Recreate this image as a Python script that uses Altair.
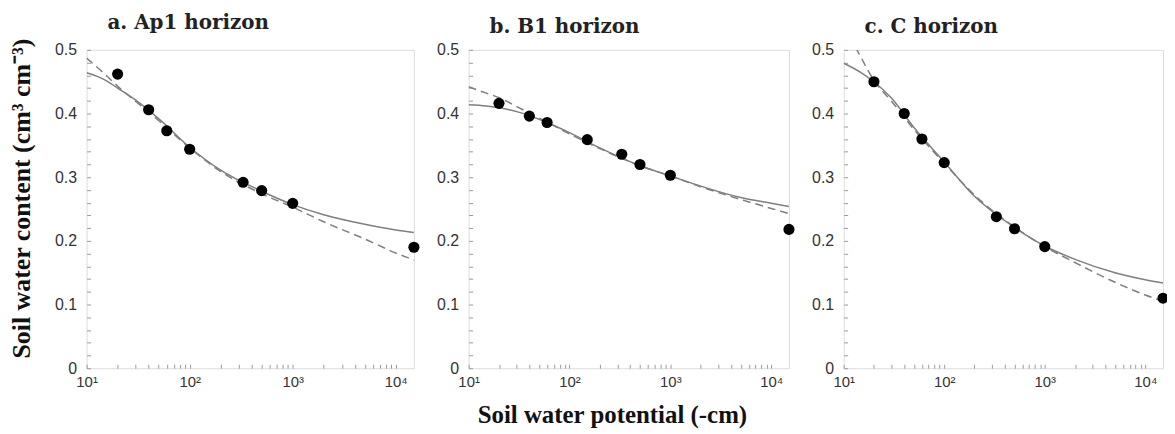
import altair as alt
import pandas as pd

# ---------------- data ----------------
# observed points (suction in -cm, water content cm3/cm3)
psi_obs_a = [20, 40, 60, 100, 330, 500, 1000, 15000]
theta_obs_a = [0.462, 0.406, 0.373, 0.344, 0.292, 0.279, 0.259, 0.190]

psi_obs_b = [20, 40, 60, 150, 330, 500, 1000, 15000]
theta_obs_b = [0.416, 0.396, 0.386, 0.359, 0.336, 0.320, 0.303, 0.218]

psi_obs_c = [20, 40, 60, 100, 330, 500, 1000, 15000]
theta_obs_c = [0.450, 0.400, 0.360, 0.323, 0.238, 0.219, 0.191, 0.110]

# fitted curves
psi_curve = [10, 15, 20, 30, 50, 100, 200, 500, 1000, 2000, 5000, 10000, 15000]

solid_a = [0.464, 0.453, 0.440, 0.421, 0.392, 0.347, 0.311, 0.278, 0.257, 0.241, 0.226, 0.217, 0.213]
dashed_a = [0.487, 0.462, 0.443, 0.419, 0.389, 0.346, 0.309, 0.274, 0.253, 0.230, 0.203, 0.181, 0.170]

solid_b = [0.414, 0.412, 0.409, 0.403, 0.391, 0.370, 0.346, 0.318, 0.302, 0.286, 0.268, 0.259, 0.254]
dashed_b = [0.442, 0.432, 0.425, 0.411, 0.393, 0.368, 0.345, 0.318, 0.302, 0.285, 0.265, 0.251, 0.243]

solid_c = [0.479, 0.464, 0.450, 0.424, 0.378, 0.324, 0.270, 0.221, 0.192, 0.171, 0.150, 0.139, 0.134]
dashed_c = [0.540, 0.487, 0.452, 0.419, 0.375, 0.322, 0.272, 0.222, 0.191, 0.166, 0.135, 0.115, 0.105]

titles = ["a. Ap1 horizon", "b. B1 horizon", "c. C horizon"]

x_ticks = [10, 20, 30, 40, 50, 60, 70, 80, 90,
           100, 200, 300, 400, 500, 600, 700, 800, 900,
           1000, 2000, 3000, 4000, 5000, 6000, 7000, 8000, 9000, 10000]
y_ticks = [0.0, 0.02, 0.04, 0.06, 0.08, 0.1, 0.12, 0.14, 0.16, 0.18, 0.2,
           0.22, 0.24, 0.26, 0.28, 0.3, 0.32, 0.34, 0.36, 0.38, 0.4,
           0.42, 0.44, 0.46, 0.48, 0.5]

x_label_expr = ("datum.value == 10 ? '10\u00b9' : datum.value == 100 ? '10\u00b2' : "
                "datum.value == 1000 ? '10\u00b3' : datum.value == 10000 ? '10\u2074' : ''")
y_label_expr = ("datum.value == 0 ? '0' : (round(datum.value * 100) % 10 == 0 ? "
                "format(datum.value, '.1f') : '')")

GRAY = "#7f7f7f"
TICK = "#9a9a9a"


def panel(title, psi_obs, theta_obs, solid, dashed, width, ytitle=None, xtitle=None):
    obs = pd.DataFrame({"psi": psi_obs, "theta": theta_obs})
    s_df = pd.DataFrame({"psi": psi_curve, "theta": solid})
    d_df = pd.DataFrame({"psi": psi_curve, "theta": dashed})

    x_axis_kw = dict(
        values=x_ticks, labelExpr=x_label_expr, tickSize=4, offset=-4,
        domain=False, grid=False, labelPadding=6, labelFlush=False,
        labelOverlap=False, tickColor=TICK, labelFont="Liberation Sans",
        labelFontSize=15, labelColor="#333",
    )
    if xtitle:
        x_axis_kw.update(title=xtitle, titleFont="Liberation Serif", titleFontSize=25,
                         titleFontWeight="bold", titleColor="#111", titlePadding=14,
                         titleX=144)
    else:
        x_axis_kw.update(title=None)

    y_axis_kw = dict(
        values=y_ticks, labelExpr=y_label_expr, tickSize=4, offset=-4,
        domain=False, grid=False, labelPadding=10, labelOverlap=False,
        tickColor=TICK, labelFont="Liberation Sans", labelFontSize=16,
        labelColor="#333",
    )
    if ytitle:
        y_axis_kw.update(title=ytitle, titleFont="Liberation Serif", titleFontSize=26,
                         titleFontWeight="bold", titleColor="#111", titlePadding=20,
                         titleY=149)
    else:
        y_axis_kw.update(title=None)

    x = alt.X("psi:Q", scale=alt.Scale(type="log", domain=[10, 15000], nice=False),
              axis=alt.Axis(**x_axis_kw))
    y = alt.Y("theta:Q", scale=alt.Scale(domain=[0, 0.5], nice=False),
              axis=alt.Axis(**y_axis_kw))

    solid_line = alt.Chart(s_df).mark_line(
        clip=True, interpolate="monotone", color=GRAY, strokeWidth=1.5
    ).encode(x=x, y=y)
    dashed_line = alt.Chart(d_df).mark_line(
        clip=True, interpolate="monotone", color=GRAY, strokeWidth=1.5,
        strokeDash=[8, 5]
    ).encode(x=x, y=y)
    pts = alt.Chart(obs).mark_circle(size=125, color="black", opacity=1).encode(x=x, y=y)

    return alt.layer(solid_line, dashed_line, pts).properties(
        width=width, height=320,
        title=alt.Title(title, anchor="start", frame="group", dx=21, offset=5,
                        font="DejaVu Serif", fontSize=20, fontWeight="bold",
                        color="#222"),
    )


pa = panel(titles[0], psi_obs_a, theta_obs_a, solid_a, dashed_a, 329,
           ytitle="Soil water content (cm\u00b3 cm\u207b\u00b3)")
pb = panel(titles[1], psi_obs_b, theta_obs_b, solid_b, dashed_b, 322,
           xtitle="Soil water potential (-cm)")
pc = panel(titles[2], psi_obs_c, theta_obs_c, solid_c, dashed_c, 321)

chart = alt.hconcat(pa, pb, pc, spacing=15).properties(
    padding={"left": 0, "top": 3, "right": -3, "bottom": 0}
).configure_view(
    stroke="#9a9a9a", strokeWidth=1
).configure(background="white")

chart.save("out.html", embed_options={"renderer": "svg", "actions": False})
